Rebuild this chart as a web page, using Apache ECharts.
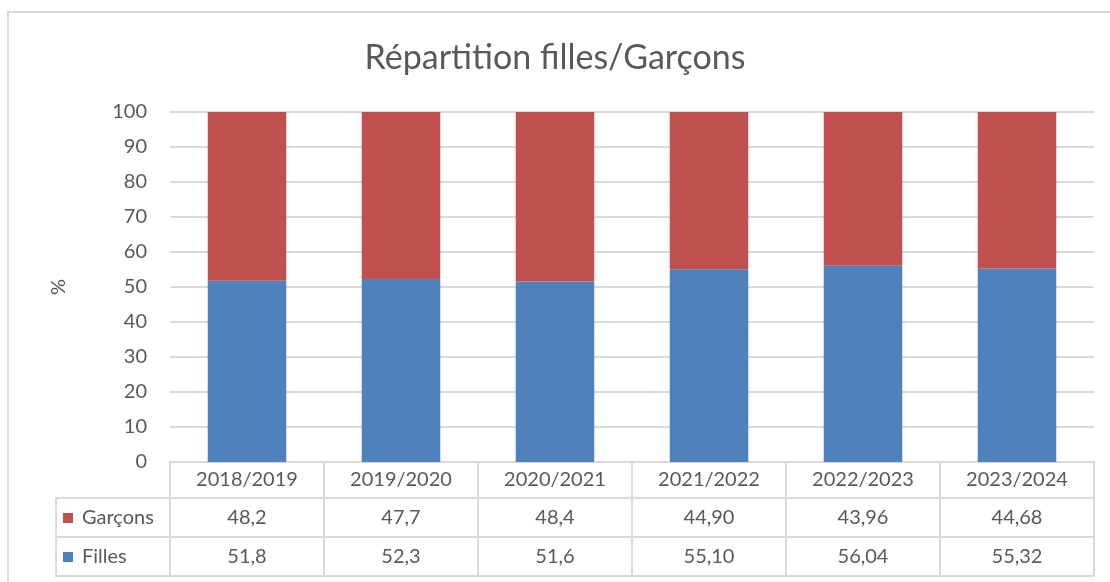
<!DOCTYPE html>
<html>
<head>
<meta charset="utf-8">
<script src="https://cdn.jsdelivr.net/npm/echarts@6/dist/echarts.min.js"></script>
<style>
  html, body { margin: 0; padding: 0; background: #fff; }
  #chart { width: 1110px; height: 582px; }
</style>
</head>
<body>
<div id="chart"></div>
<script>
// Répartition filles / garçons, style tableau Excel sous le graphique
const categories = ['2018/2019', '2019/2020', '2020/2021', '2021/2022', '2022/2023', '2023/2024'];
const filles = [51.8, 52.3, 51.6, 55.10, 56.04, 55.32];
const garcons = [48.2, 47.7, 48.4, 44.90, 43.96, 44.68];
const fillesLabels = ['51,8', '52,3', '51,6', '55,10', '56,04', '55,32'];
const garconsLabels = ['48,2', '47,7', '48,4', '44,90', '43,96', '44,68'];

const FONT = 'Lato, "Open Sans", sans-serif';
const TXT = '#595959';
const LINE = '#d9d9d9';
const RED = '#C0504D';
const BLUE = '#4F81BD';
const FS = 20;

function tableAxis(data, offset, tickLen, showLabel) {
  return {
    type: 'category',
    data: data,
    position: 'bottom',
    offset: offset,
    axisLine: { show: true, lineStyle: { color: LINE, width: 2 } },
    axisTick: { show: tickLen > 0, length: tickLen, interval: 0, lineStyle: { color: LINE, width: 2 } },
    axisLabel: {
      show: showLabel, interval: 0, margin: tickLen / 2, verticalAlign: 'middle',
      fontSize: FS, color: TXT, fontFamily: FONT
    }
  };
}

const chart = echarts.init(document.getElementById('chart'));
chart.setOption({
  animation: false,
  title: {
    text: 'Répartition filles/Garçons',
    left: 'center', top: 36,
    textStyle: { fontSize: 34, fontWeight: 'normal', color: TXT, fontFamily: FONT }
  },
  legend: {
    data: ['Garçons', 'Filles'],
    orient: 'vertical',
    left: 63, top: 508, padding: 0,
    itemWidth: 10, itemHeight: 10, itemGap: 19,
    icon: 'rect',
    textStyle: { fontSize: FS, color: TXT, fontFamily: FONT, lineHeight: 20, padding: [0, 0, 0, 4] }
  },
  grid: { left: 170, right: 16, top: 112, bottom: 120, containLabel: false },
  xAxis: [
    tableAxis(categories, 0, 36, true),
    tableAxis(garconsLabels, 36, 39, true),
    tableAxis(fillesLabels, 75, 39, true),
    tableAxis(categories, 114, 0, false)
  ],
  yAxis: {
    type: 'value', min: 0, max: 100, interval: 10,
    name: '%', nameLocation: 'middle', nameGap: 101,
    nameTextStyle: { fontSize: FS, color: TXT, fontFamily: FONT },
    axisLine: { show: false }, axisTick: { show: false },
    axisLabel: { fontSize: FS, color: TXT, fontFamily: FONT, margin: 23 },
    splitLine: { lineStyle: { color: LINE, width: 2 } }
  },
  series: [
    { name: 'Filles', type: 'bar', stack: 'total', data: filles, barWidth: '51%', itemStyle: { color: BLUE } },
    { name: 'Garçons', type: 'bar', stack: 'total', data: garcons, barWidth: '51%', itemStyle: { color: RED } }
  ],
  graphic: [
    { type: 'rect', shape: { x: 8, y: 12, width: 1200, height: 700 }, style: { fill: 'none', stroke: LINE, lineWidth: 2 }, silent: true },
    { type: 'line', shape: { x1: 56, y1: 498, x2: 170, y2: 498 }, style: { stroke: LINE, lineWidth: 2 } },
    { type: 'line', shape: { x1: 56, y1: 537, x2: 170, y2: 537 }, style: { stroke: LINE, lineWidth: 2 } },
    { type: 'line', shape: { x1: 56, y1: 576, x2: 170, y2: 576 }, style: { stroke: LINE, lineWidth: 2 } },
    { type: 'line', shape: { x1: 56, y1: 497, x2: 56, y2: 577 }, style: { stroke: LINE, lineWidth: 2 } }
  ]
});
window.addEventListener('resize', () => chart.resize());
</script>
</body>
</html>
